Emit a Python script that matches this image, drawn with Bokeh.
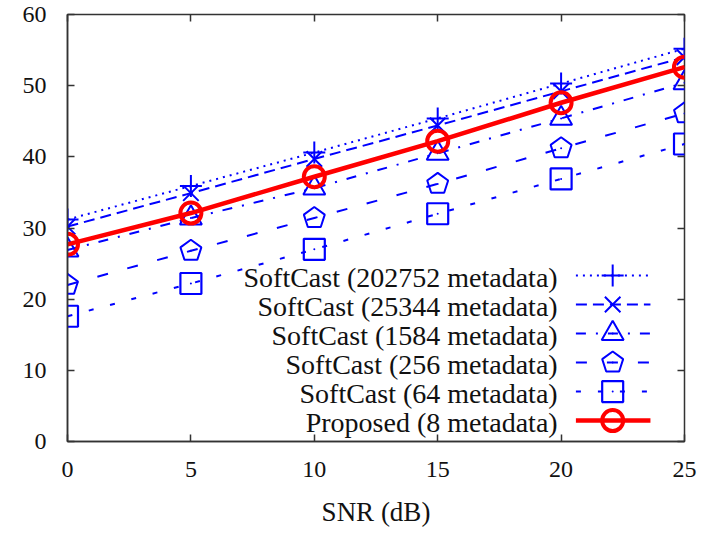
from bokeh.plotting import figure
from bokeh.models import LinearAxis, Range1d, FixedTicker
from bokeh.core.properties import value
from bokeh.embed import file_html
from bokeh.resources import INLINE

# ---- data ----
snr = [0, 5, 10, 15, 20, 25]
softcast_202752 = [31.2, 35.9, 40.6, 45.4, 50.3, 55.2]
softcast_25344 = [30.2, 34.9, 39.7, 44.4, 49.2, 54.0]
softcast_1584 = [26.9, 31.4, 35.6, 40.5, 45.4, 50.4]
softcast_256 = [22.0, 26.8, 31.4, 36.2, 41.2, 46.1]
softcast_64 = [17.6, 22.2, 27.0, 32.0, 36.9, 41.8]
proposed_8 = [27.7, 32.1, 37.2, 42.2, 47.6, 52.6]

x_ticks = [0, 5, 10, 15, 20, 25]
y_ticks = [0, 10, 20, 30, 40, 50, 60]

labels = [
    "SoftCast (202752 metadata)",
    "SoftCast (25344 metadata)",
    "SoftCast (1584 metadata)",
    "SoftCast (256 metadata)",
    "SoftCast (64 metadata)",
    "Proposed (8 metadata)",
]
x_label = "SNR (dB)"

BLUE = "#0000ff"
RED = "#ff0000"
FRAME = "#333333"
TEXT = "#111111"
FONT = "Liberation Serif"

series = [
    dict(y=softcast_202752, color=BLUE, dash="2 5", marker="cross", size=22, lw=2, mlw=2),
    dict(y=softcast_25344, color=BLUE, dash="11 6", marker="x", size=22, lw=2, mlw=2),
    dict(y=softcast_1584, color=BLUE, dash="10 10 2 10", marker="triangle", size=22, lw=2, mlw=2),
    dict(y=softcast_256, color=BLUE, dash="11 20", marker="pentagon", size=11, lw=2, mlw=2),
    dict(y=softcast_64, color=BLUE, dash="5 17", marker="square", size=21, lw=2, mlw=2.2),
    dict(y=proposed_8, color=RED, dash="solid", marker="circle", size=21, lw=4.5, mlw=4),
]

p = figure(frame_width=617, frame_height=427,
           x_range=Range1d(0, 25), y_range=Range1d(0, 60),
           output_backend="svg", toolbar_location=None,
           min_border_left=67, min_border_right=20,
           min_border_top=14, min_border_bottom=88)
p.grid.visible = False
p.outline_line_color = FRAME
p.outline_line_width = 1.5
p.background_fill_color = "white"
p.border_fill_color = "white"


def style_axis(ax, ticks, show_labels=True):
    ax.ticker = FixedTicker(ticks=ticks)
    ax.major_tick_in = 7
    ax.major_tick_out = 0
    ax.minor_tick_line_color = None
    ax.major_tick_line_color = FRAME
    ax.major_tick_line_width = 1.5
    ax.axis_line_color = FRAME
    ax.axis_line_width = 1.5
    if show_labels:
        ax.major_label_text_font = FONT
        ax.major_label_text_font_size = "24px"
        ax.major_label_text_color = TEXT
    else:
        ax.major_label_text_font_size = "0px"
        ax.major_label_text_alpha = 0
        ax.major_label_standoff = 0


xa = p.xaxis[0]
style_axis(xa, x_ticks)
xa.major_label_standoff = 20
xa.axis_label = x_label
xa.axis_label_text_font = FONT
xa.axis_label_text_font_size = "27px"
xa.axis_label_text_font_style = "normal"
xa.axis_label_text_color = TEXT
xa.axis_label_standoff = 17

style_axis(p.yaxis[0], y_ticks)
p.yaxis[0].major_label_standoff = 21

top = LinearAxis()
style_axis(top, x_ticks, show_labels=False)
top.axis_line_color = None
p.add_layout(top, "above")

right = LinearAxis()
style_axis(right, y_ticks, show_labels=False)
right.axis_line_color = None
p.add_layout(right, "right")


def draw_marker(s, xs, ys):
    if s["marker"] == "pentagon":
        try:
            p.ngon(x=xs, y=ys, radius=s["size"], radius_units="screen", n=5,
                   fill_color=None, line_color=s["color"], line_width=s["mlw"])
        except Exception:
            p.scatter(x=xs, y=ys, marker="hex", size=2 * s["size"], fill_color=None,
                      line_color=s["color"], line_width=s["mlw"])
    else:
        p.scatter(x=xs, y=ys, marker=s["marker"], size=s["size"], fill_color=None,
                  line_color=s["color"], line_width=s["mlw"])
    p.scatter(x=xs, y=ys, marker="dot", size=8, line_color=s["color"], fill_color=None)


# ---- legend layout (in plot units) ----
leg_text_x = 19.86
leg_line_x0, leg_line_x1, leg_marker_x = 20.6, 23.62, 22.09
leg_top, leg_step = 23.32, 4.075
leg_text_dy = -0.28

for i, s in enumerate(series):
    p.line(x=snr, y=s["y"], line_color=s["color"], line_width=s["lw"],
           line_dash=s["dash"])
    draw_marker(s, snr, s["y"])
    ly = leg_top - i * leg_step
    p.line(x=[leg_line_x0, leg_line_x1], y=[ly, ly], line_color=s["color"],
           line_width=s["lw"], line_dash=s["dash"])
    draw_marker(s, [leg_marker_x], [ly])

p.text(x=[leg_text_x] * len(labels),
       y=[leg_top - i * leg_step + leg_text_dy for i in range(len(labels))],
       text=labels, text_align="right", text_baseline="middle",
       text_font=value(FONT), text_font_size="28px", text_color=TEXT)

open("out.html", "w").write(file_html(p, INLINE))
